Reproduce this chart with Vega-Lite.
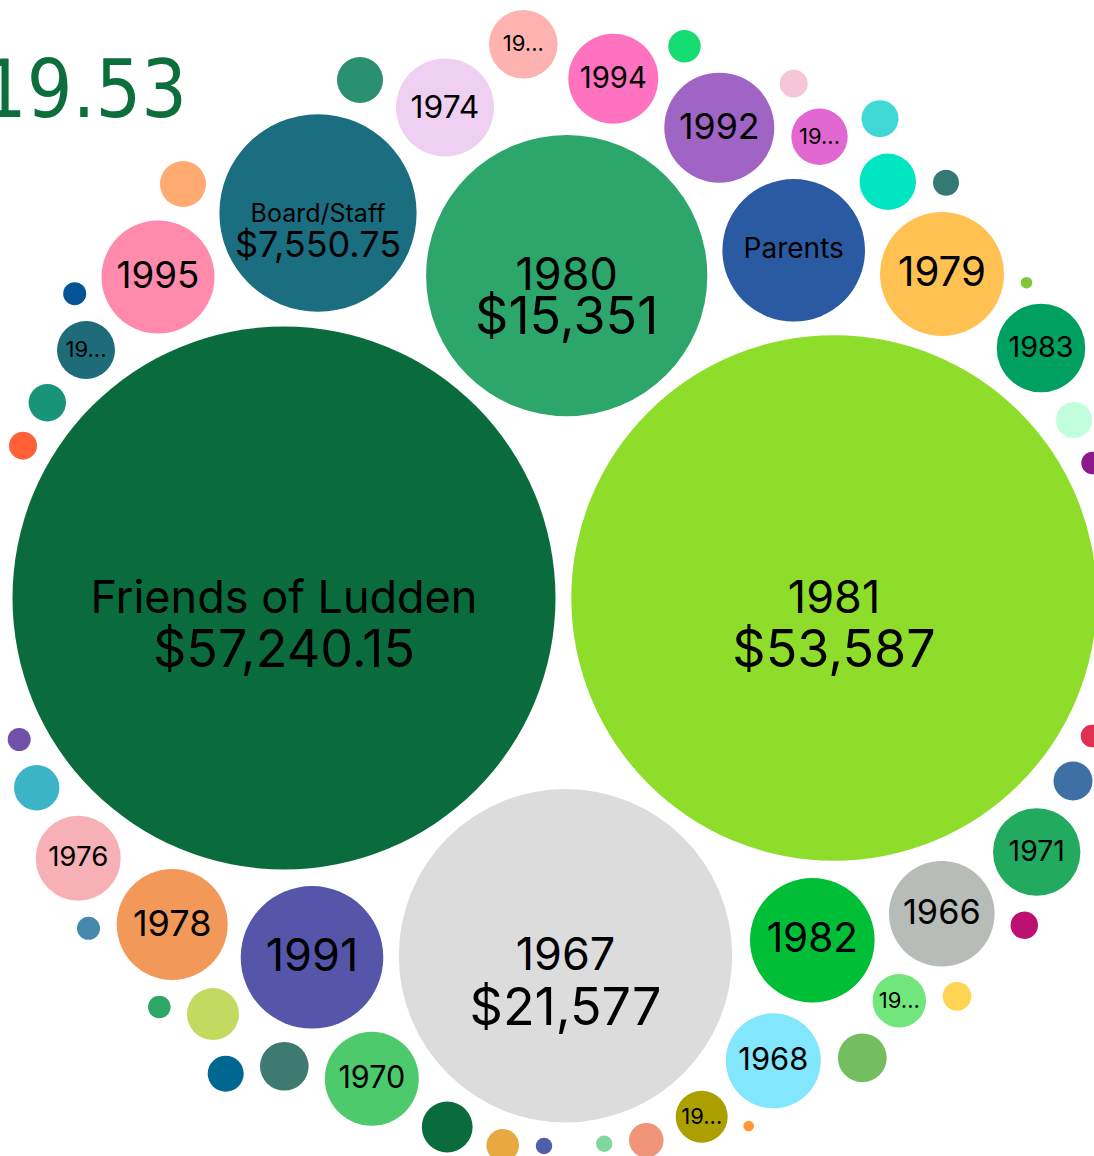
{
  "$schema": "https://vega.github.io/schema/vega-lite/v6.json",
  "width": 1094,
  "height": 1156,
  "autosize": {"type": "none"},
  "padding": 0,
  "background": "white",
  "config": {"view": {"stroke": null}},
  "title": {
    "text": "$201,019.53",
    "orient": "top",
    "anchor": "start",
    "frame": "group",
    "align": "right",
    "baseline": "alphabetic",
    "dx": 187,
    "dy": 80,
    "offset": -117,
    "font": "DejaVu Sans Condensed, Liberation Sans Narrow, sans-serif",
    "fontSize": 80,
    "fontWeight": "normal",
    "color": "#0b6e3c"
  },
  "data": {
    "values": [
      {"id": "b01", "name": "Friends of Ludden", "value": 57240.15, "cx": 284, "cy": 598},
      {"id": "b02", "name": "1981", "value": 53587, "cx": 834, "cy": 598},
      {"id": "b03", "name": "1967", "value": 21577, "cx": 565.5, "cy": 955.7},
      {"id": "b04", "name": "1980", "value": 15351, "cx": 566.7, "cy": 275.7},
      {"id": "b05", "name": "Board/Staff", "value": 7550.75, "cx": 318, "cy": 213},
      {"id": "b06", "name": "Parents", "value": 3947, "cx": 793.7, "cy": 250.3},
      {"id": "b07", "name": "1991", "value": 3947, "cx": 312, "cy": 957.3},
      {"id": "b08", "name": "1982", "value": 3014, "cx": 812.3, "cy": 940.2},
      {"id": "b09", "name": "1979", "value": 2985, "cx": 942, "cy": 274},
      {"id": "b10", "name": "1995", "value": 2479, "cx": 158, "cy": 277},
      {"id": "b11", "name": "1978", "value": 2392, "cx": 172.2, "cy": 924.5},
      {"id": "b12", "name": "1992", "value": 2349, "cx": 719.3, "cy": 127.7},
      {"id": "b13", "name": "1966", "value": 2165, "cx": 941.8, "cy": 913.8},
      {"id": "b14", "name": "1974", "value": 1864, "cx": 445, "cy": 107.5},
      {"id": "b15", "name": "1968", "value": 1752, "cx": 773.3, "cy": 1060.8},
      {"id": "b16", "name": "1970", "value": 1715, "cx": 371.8, "cy": 1078.8},
      {"id": "b17", "name": "1994", "value": 1572, "cx": 613.3, "cy": 78.7},
      {"id": "b18", "name": "1983", "value": 1524, "cx": 1041, "cy": 348},
      {"id": "b19", "name": "1971", "value": 1483, "cx": 1036.7, "cy": 852},
      {"id": "b20", "name": "1976", "value": 1403, "cx": 78.2, "cy": 858.2},
      {"id": "b21", "name": "1984", "value": 913, "cx": 523.3, "cy": 44.3},
      {"id": "b22", "name": "1985", "value": 653, "cx": 86, "cy": 350},
      {"id": "b23", "name": "1986", "value": 618, "cx": 819.5, "cy": 136.8},
      {"id": "b24", "name": null, "value": 618, "cx": 887.8, "cy": 181.8},
      {"id": "b25", "name": "1969", "value": 554, "cx": 899.3, "cy": 1000.7},
      {"id": "b26", "name": "1972", "value": 525, "cx": 701.7, "cy": 1116.7},
      {"id": "b27", "name": null, "value": 525, "cx": 213, "cy": 1014},
      {"id": "b28", "name": null, "value": 501, "cx": 447.2, "cy": 1127},
      {"id": "b29", "name": null, "value": 462, "cx": 862.3, "cy": 1057.8},
      {"id": "b30", "name": null, "value": 459, "cx": 284.3, "cy": 1066.3},
      {"id": "b31", "name": null, "value": 411, "cx": 360, "cy": 80},
      {"id": "b32", "name": null, "value": 411, "cx": 183, "cy": 184},
      {"id": "b33", "name": null, "value": 400, "cx": 36.7, "cy": 787.7},
      {"id": "b34", "name": null, "value": 295, "cx": 1073, "cy": 781},
      {"id": "b35", "name": null, "value": 272, "cx": 47.3, "cy": 402.7},
      {"id": "b36", "name": null, "value": 266, "cx": 880, "cy": 118.7},
      {"id": "b37", "name": null, "value": 252, "cx": 225.7, "cy": 1073.7},
      {"id": "b38", "name": null, "value": 252, "cx": 1074, "cy": 420},
      {"id": "b39", "name": null, "value": 232, "cx": 646.3, "cy": 1140.3},
      {"id": "b40", "name": null, "value": 206, "cx": 502.7, "cy": 1145.3},
      {"id": "b41", "name": null, "value": 204, "cx": 684.5, "cy": 46.3},
      {"id": "b42", "name": null, "value": 159, "cx": 957, "cy": 996.3},
      {"id": "b43", "name": null, "value": 152, "cx": 793.7, "cy": 83.7},
      {"id": "b44", "name": null, "value": 152, "cx": 23, "cy": 445.7},
      {"id": "b45", "name": null, "value": 146, "cx": 1024.3, "cy": 925.3},
      {"id": "b46", "name": null, "value": 131, "cx": 946, "cy": 182.7},
      {"id": "b47", "name": null, "value": 103, "cx": 74.7, "cy": 293.7},
      {"id": "b48", "name": null, "value": 103, "cx": 19.2, "cy": 739.5},
      {"id": "b49", "name": null, "value": 103, "cx": 88.5, "cy": 928.3},
      {"id": "b50", "name": null, "value": 99, "cx": 159.3, "cy": 1007},
      {"id": "b51", "name": null, "value": 99, "cx": 1092.6, "cy": 463},
      {"id": "b52", "name": null, "value": 99, "cx": 1092, "cy": 736},
      {"id": "b53", "name": null, "value": 53, "cx": 544, "cy": 1146},
      {"id": "b54", "name": null, "value": 52, "cx": 604.2, "cy": 1143.8},
      {"id": "b55", "name": null, "value": 26, "cx": 1026.5, "cy": 282.7},
      {"id": "b56", "name": null, "value": 22, "cx": 748.7, "cy": 1126}
    ]
  },
  "encoding": {
    "x": {"field": "cx", "type": "quantitative", "axis": null, "scale": {"domain": [0, 1094], "nice": false, "zero": false}},
    "y": {"field": "cy", "type": "quantitative", "axis": null, "scale": {"domain": [0, 1156], "nice": false, "zero": false, "reverse": true}}
  },
  "resolve": {"scale": {"size": "independent"}},
  "layer": [
    {
      "mark": {"type": "circle", "opacity": 1, "strokeWidth": 0},
      "encoding": {
        "size": {"field": "value", "type": "quantitative", "legend": null, "scale": {"type": "linear", "domain": [0, 57240.15], "range": [0, 294849], "zero": true}},
        "color": {
          "field": "id", "type": "nominal", "legend": null,
          "scale": {
            "domain": ["b01","b02","b03","b04","b05","b06","b07","b08","b09","b10","b11","b12","b13","b14","b15","b16","b17","b18","b19","b20","b21","b22","b23","b24","b25","b26","b27","b28","b29","b30","b31","b32","b33","b34","b35","b36","b37","b38","b39","b40","b41","b42","b43","b44","b45","b46","b47","b48","b49","b50","b51","b52","b53","b54","b55","b56"],
            "range": ["#0a6b3c","#8ddd2a","#dcdcdc","#2ca66a","#1b6e80","#2a5aa2","#5556aa","#00be36","#ffc252","#ff8aac","#f29858","#a064c4","#b8bcb8","#f0d0f2","#82e6fc","#4cca6c","#ff72c0","#00a060","#22aa5e","#f6b0b6","#ffb3b0","#1e6c7a","#e068d0","#00e6c0","#70e67c","#aca000","#c2da60","#0a6b3c","#74be60","#3e7a70","#2a9070","#ffaa70","#3cb4c8","#3e70a6","#189478","#40d8d6","#006890","#c0fedc","#f0947a","#e8aa40","#14dc70","#ffd452","#f5c5d8","#ff6038","#be1070","#337a74","#045496","#7050a8","#4488ae","#2ea668","#8a1a8c","#e03050","#5060a8","#80d8a0","#80c83a","#ff9830"]
          }
        }
      }
    },
    {
      "transform": [{"filter": "datum.value > 10000"}],
      "mark": {"type": "text", "font": "Inter", "fontSize": 45, "baseline": "alphabetic", "align": "center", "dy": 14.5, "fill": "#000"},
      "encoding": {"text": {"field": "name", "type": "nominal"}}
    },
    {
      "transform": [{"filter": "datum.value > 20000"}],
      "mark": {"type": "text", "font": "Inter", "fontSize": 52, "baseline": "alphabetic", "align": "center", "dy": 69, "fill": "#000"},
      "encoding": {"text": {"field": "value", "type": "quantitative", "format": "$,.2~f"}}
    },
    {
      "transform": [{"filter": "datum.name == '1980'"}],
      "mark": {"type": "text", "font": "Inter", "fontSize": 52, "baseline": "alphabetic", "align": "center", "dy": 58.5, "fill": "#000"},
      "encoding": {"text": {"field": "value", "type": "quantitative", "format": "$,.2~f"}}
    },
    {
      "transform": [{"filter": "datum.name == 'Board/Staff'"}],
      "mark": {"type": "text", "font": "Inter", "fontSize": 25, "baseline": "alphabetic", "align": "center", "dy": 9, "fill": "#000"},
      "encoding": {"text": {"field": "name", "type": "nominal"}}
    },
    {
      "transform": [{"filter": "datum.name == 'Board/Staff'"}],
      "mark": {"type": "text", "font": "Inter", "fontSize": 36, "baseline": "alphabetic", "align": "center", "dy": 44, "fill": "#000"},
      "encoding": {"text": {"field": "value", "type": "quantitative", "format": "$,.2~f"}}
    },
    {
      "transform": [{"filter": "datum.name == 'Parents'"}],
      "mark": {"type": "text", "font": "Inter", "fontSize": 28, "baseline": "middle", "align": "center", "fill": "#000"},
      "encoding": {"text": {"field": "name", "type": "nominal"}}
    },
    {
      "transform": [{"filter": {"field": "name", "oneOf": ["1991","1982","1979","1995","1978","1992","1966","1974","1968","1970","1994","1983","1971","1976"]}}],
      "mark": {"type": "text", "font": "Inter", "baseline": "middle", "align": "center", "fill": "#000"},
      "encoding": {
        "text": {"field": "name", "type": "nominal"},
        "size": {"field": "value", "type": "quantitative", "legend": null, "scale": {"type": "sqrt", "domain": [0, 3722], "range": [0, 45], "clamp": true, "zero": true}}
      }
    },
    {
      "transform": [{"filter": {"field": "name", "oneOf": ["1984","1985","1986","1969","1972"]}}],
      "mark": {"type": "text", "font": "Inter", "fontSize": 22, "baseline": "middle", "align": "center", "limit": 48, "ellipsis": "...", "fill": "#000"},
      "encoding": {"text": {"field": "name", "type": "nominal"}}
    }
  ]
}
